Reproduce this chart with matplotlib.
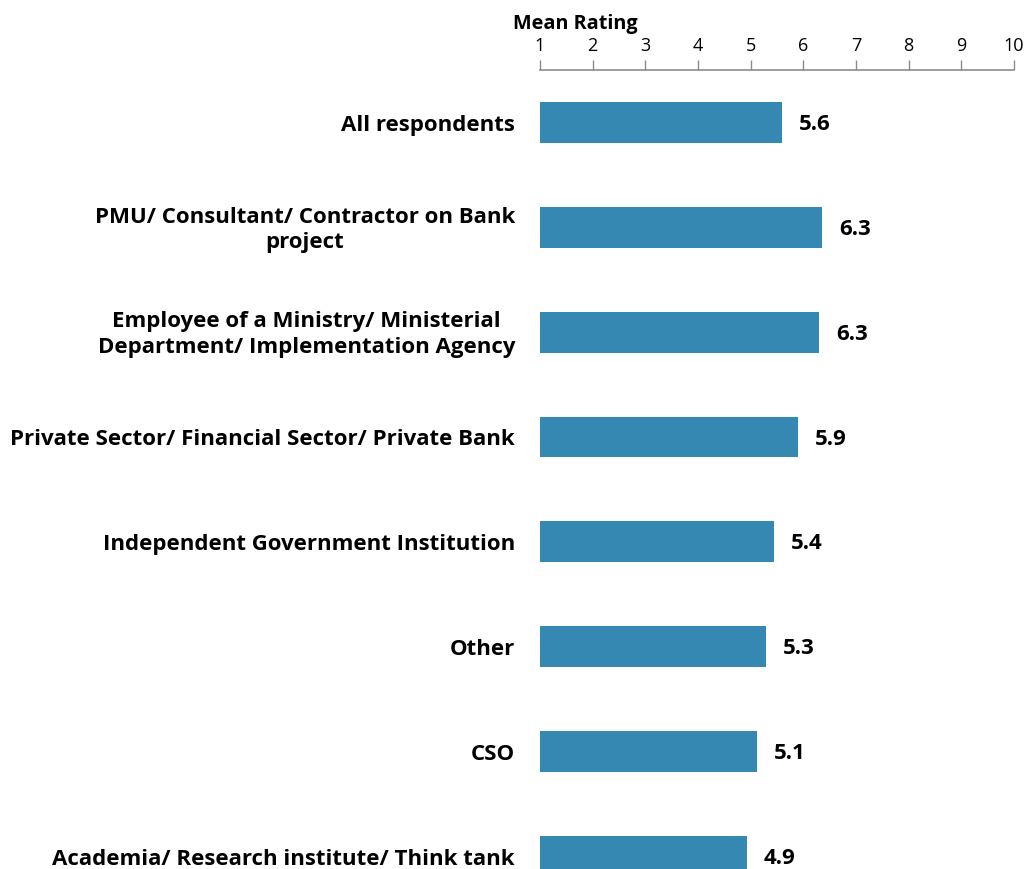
import matplotlib
matplotlib.use("Agg")
from matplotlib import pyplot as plt
from matplotlib import transforms

categories = [
    "All respondents",
    "PMU/ Consultant/ Contractor on Bank\nproject",
    "Employee of a Ministry/ Ministerial\nDepartment/ Implementation Agency",
    "Private Sector/ Financial Sector/ Private Bank",
    "Independent Government Institution",
    "Other",
    "CSO",
    "Academia/ Research institute/ Think tank",
]
ratings = [5.6, 6.36, 6.3, 5.9, 5.44, 5.29, 5.12, 4.93]
rating_labels = ["5.6", "6.3", "6.3", "5.9", "5.4", "5.3", "5.1", "4.9"]
ticks = list(range(1, 11))

plt.rcParams['font.family'] = ['Open Sans', 'DejaVu Sans']

fig = plt.figure(figsize=(10.29, 8.69), dpi=100)
ax = fig.add_axes([540/1029, 0, 474/1029, 1 - 70/869])

bar_color = "#3588b2"
gray = "#8c8c8c"

ypos = list(range(len(categories)))
ax.barh(ypos, [r - 1 for r in ratings], left=1, height=0.39, color=bar_color)

for y, r, lab in zip(ypos, ratings, rating_labels):
    ax.text(r + 0.32, y + 0.02, lab, ha='left', va='center', fontsize=16, fontweight='bold')

trans = transforms.blended_transform_factory(ax.transAxes, ax.transData)
for y, cat in zip(ypos, categories):
    ax.text(-25/474, y + 0.025, cat, transform=trans, ha='right', va='center',
            multialignment='center', fontsize=16, fontweight='bold', linespacing=1.3)

ax.set_xlim(1, 10)
ax.set_ylim(7.12, -0.5)
ax.set_xticks(ticks)
ax.xaxis.set_ticks_position('top')
ax.tick_params(axis='x', direction='out', length=7, width=1, color=gray, labelsize=13, pad=3.5)
ax.set_yticks([])
for s in ['right', 'bottom', 'left']:
    ax.spines[s].set_visible(False)
ax.spines['top'].set_color(gray)
ax.spines['top'].set_linewidth(1.2)

fig.text(575/1029, 1 - 24/869, "Mean Rating", ha='center', va='center', fontsize=14.3, fontweight='bold')

fig.savefig("out.png", dpi=100)
